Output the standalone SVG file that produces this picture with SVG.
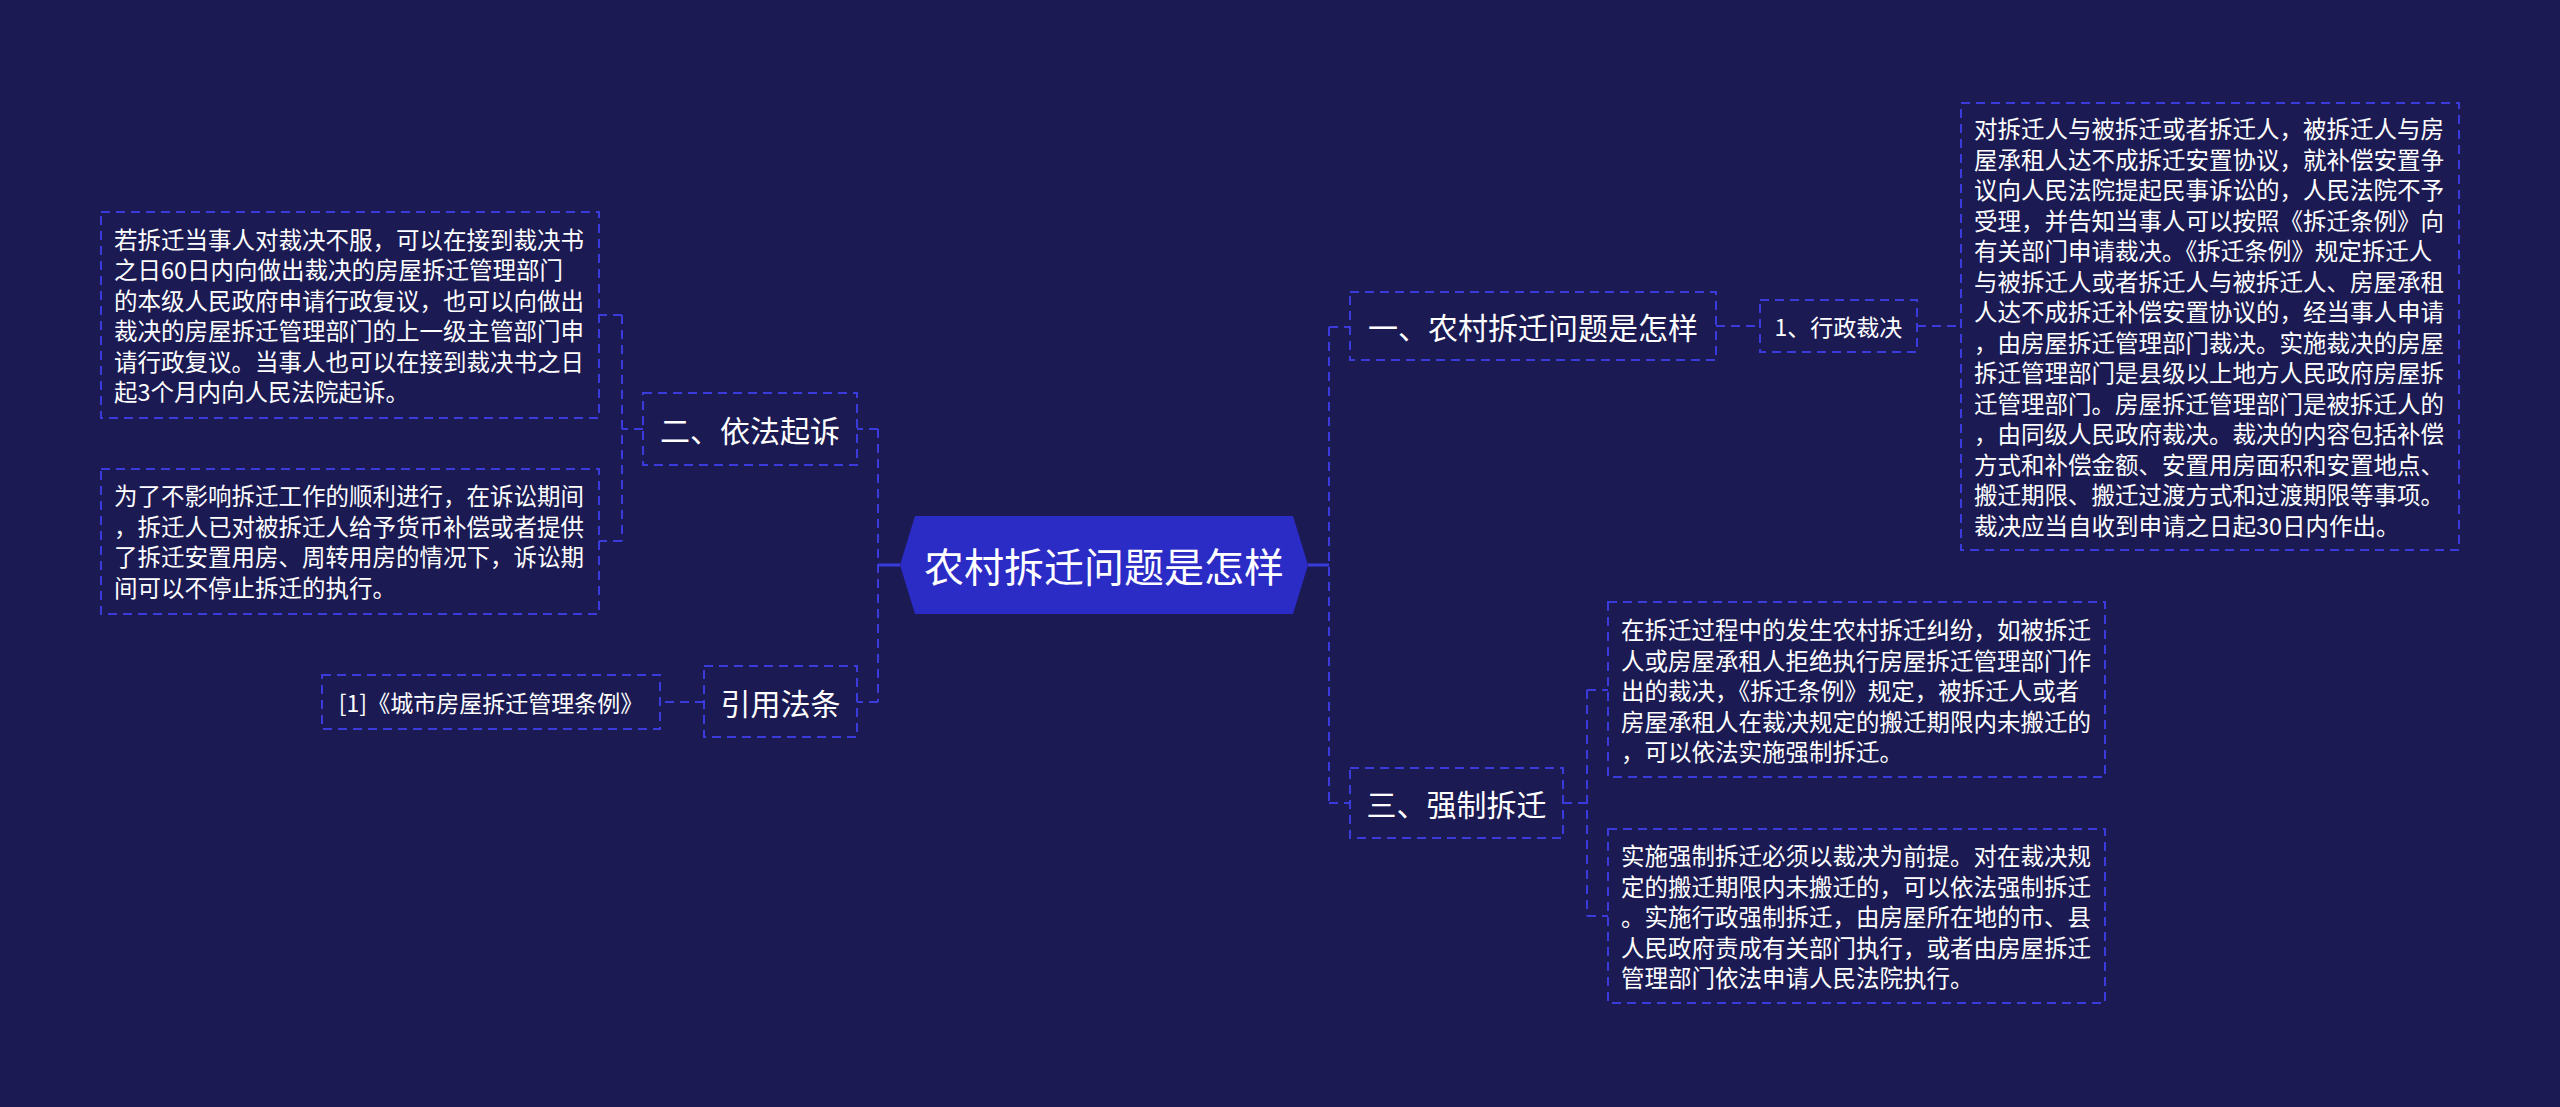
<svg xmlns="http://www.w3.org/2000/svg" width="2560" height="1107" viewBox="0 0 2560 1107">
<style>
.bg{fill:#1b1a53}
.box{fill:none;stroke:#3b3bdc;stroke-width:2;stroke-dasharray:9 6}
.ln{fill:none;stroke:#3b3bdc;stroke-width:2;stroke-dasharray:9 6}
.solid{fill:none;stroke:#3b3bdc;stroke-width:3}
text{font-family:"Noto Sans CJK SC","Noto Sans",sans-serif;fill:#ffffff}
.t1{font-size:30px;text-anchor:middle;dominant-baseline:central}
.t2{font-size:23px;text-anchor:middle;dominant-baseline:central}
.p{font-size:23.5px;dominant-baseline:central}
.c{font-size:40px;text-anchor:middle;dominant-baseline:central}
</style>
<rect class="bg" x="0" y="0" width="2560" height="1107"/>
<g id="connectors">
<path class="solid" d="M1308,565 H1329"/>
<path class="ln" d="M1329,327 V803 M1329,327 H1350 M1329,803 H1350"/>
<path class="ln" d="M1716,326 H1760 M1917,326 H1961"/>
<path class="ln" d="M1563,803 H1587 M1587,690 V916 M1587,690 H1608 M1587,916 H1608"/>
<path class="solid" d="M900,565 H878"/>
<path class="ln" d="M878,429 V702 M878,429 H857 M878,702 H857"/>
<path class="ln" d="M643,429 H622 M622,315 V541 M622,315 H599 M622,541 H599"/>
<path class="ln" d="M704,702 H660"/>
</g>
<g id="center">
<polygon points="900,565 915,516 1293,516 1308,565 1293,614 915,614" fill="#2b2bc6"/>
<text class="c" x="1104" y="565">农村拆迁问题是怎样</text>
</g>
<g id="n1">
<rect class="box" x="1350" y="292" width="366" height="68"/>
<text class="t1" x="1533" y="326">一、农村拆迁问题是怎样</text>
</g>
<g id="n1a">
<rect class="box" x="1760" y="300" width="157" height="52"/>
<text class="t2" x="1838.5" y="326">1、行政裁决</text>
</g>
<g id="n1a-text">
<rect class="box" x="1961" y="103" width="498" height="447"/>
<text class="p" x="1974">
<tspan x="1974" y="128">对拆迁人与被拆迁或者拆迁人，被拆迁人与房</tspan>
<tspan x="1974" y="158.5">屋承租人达不成拆迁安置协议，就补偿安置争</tspan>
<tspan x="1974" y="189">议向人民法院提起民事诉讼的，人民法院不予</tspan>
<tspan x="1974" y="219.5">受理，并告知当事人可以按照《拆迁条例》向</tspan>
<tspan x="1974" y="250">有关部门申请裁决。《拆迁条例》规定拆迁人</tspan>
<tspan x="1974" y="280.5">与被拆迁人或者拆迁人与被拆迁人、房屋承租</tspan>
<tspan x="1974" y="311">人达不成拆迁补偿安置协议的，经当事人申请</tspan>
<tspan x="1974" y="341.5">，由房屋拆迁管理部门裁决。实施裁决的房屋</tspan>
<tspan x="1974" y="372">拆迁管理部门是县级以上地方人民政府房屋拆</tspan>
<tspan x="1974" y="402.5">迁管理部门。房屋拆迁管理部门是被拆迁人的</tspan>
<tspan x="1974" y="433">，由同级人民政府裁决。裁决的内容包括补偿</tspan>
<tspan x="1974" y="463.5">方式和补偿金额、安置用房面积和安置地点、</tspan>
<tspan x="1974" y="494">搬迁期限、搬迁过渡方式和过渡期限等事项。</tspan>
<tspan x="1974" y="524.5">裁决应当自收到申请之日起30日内作出。</tspan>
</text>
</g>
<g id="n3">
<rect class="box" x="1350" y="768" width="213" height="70"/>
<text class="t1" x="1456.5" y="803">三、强制拆迁</text>
</g>
<g id="n3a">
<rect class="box" x="1608" y="602" width="497" height="175"/>
<text class="p">
<tspan x="1621" y="629">在拆迁过程中的发生农村拆迁纠纷，如被拆迁</tspan>
<tspan x="1621" y="659.5">人或房屋承租人拒绝执行房屋拆迁管理部门作</tspan>
<tspan x="1621" y="690">出的裁决，《拆迁条例》规定，被拆迁人或者</tspan>
<tspan x="1621" y="720.5">房屋承租人在裁决规定的搬迁期限内未搬迁的</tspan>
<tspan x="1621" y="751">，可以依法实施强制拆迁。</tspan>
</text>
</g>
<g id="n3b">
<rect class="box" x="1608" y="829" width="497" height="174"/>
<text class="p">
<tspan x="1621" y="855">实施强制拆迁必须以裁决为前提。对在裁决规</tspan>
<tspan x="1621" y="885.5">定的搬迁期限内未搬迁的，可以依法强制拆迁</tspan>
<tspan x="1621" y="916">。实施行政强制拆迁，由房屋所在地的市、县</tspan>
<tspan x="1621" y="946.5">人民政府责成有关部门执行，或者由房屋拆迁</tspan>
<tspan x="1621" y="977">管理部门依法申请人民法院执行。</tspan>
</text>
</g>
<g id="n2">
<rect class="box" x="643" y="393" width="214" height="72"/>
<text class="t1" x="750" y="429">二、依法起诉</text>
</g>
<g id="n2a">
<rect class="box" x="101" y="212" width="498" height="206"/>
<text class="p">
<tspan x="114" y="238.75">若拆迁当事人对裁决不服，可以在接到裁决书</tspan>
<tspan x="114" y="269.25">之日60日内向做出裁决的房屋拆迁管理部门</tspan>
<tspan x="114" y="299.75">的本级人民政府申请行政复议，也可以向做出</tspan>
<tspan x="114" y="330.25">裁决的房屋拆迁管理部门的上一级主管部门申</tspan>
<tspan x="114" y="360.75">请行政复议。当事人也可以在接到裁决书之日</tspan>
<tspan x="114" y="391.25">起3个月内向人民法院起诉。</tspan>
</text>
</g>
<g id="n2b">
<rect class="box" x="101" y="469" width="498" height="145"/>
<text class="p">
<tspan x="114" y="495.25">为了不影响拆迁工作的顺利进行，在诉讼期间</tspan>
<tspan x="114" y="525.75">，拆迁人已对被拆迁人给予货币补偿或者提供</tspan>
<tspan x="114" y="556.25">了拆迁安置用房、周转用房的情况下，诉讼期</tspan>
<tspan x="114" y="586.75">间可以不停止拆迁的执行。</tspan>
</text>
</g>
<g id="n4">
<rect class="box" x="704" y="666" width="153" height="71"/>
<text class="t1" x="780.5" y="702">引用法条</text>
</g>
<g id="n4a">
<rect class="box" x="322" y="675" width="338" height="54"/>
<text class="t2" x="491" y="702">[1]《城市房屋拆迁管理条例》</text>
</g>
</svg>
